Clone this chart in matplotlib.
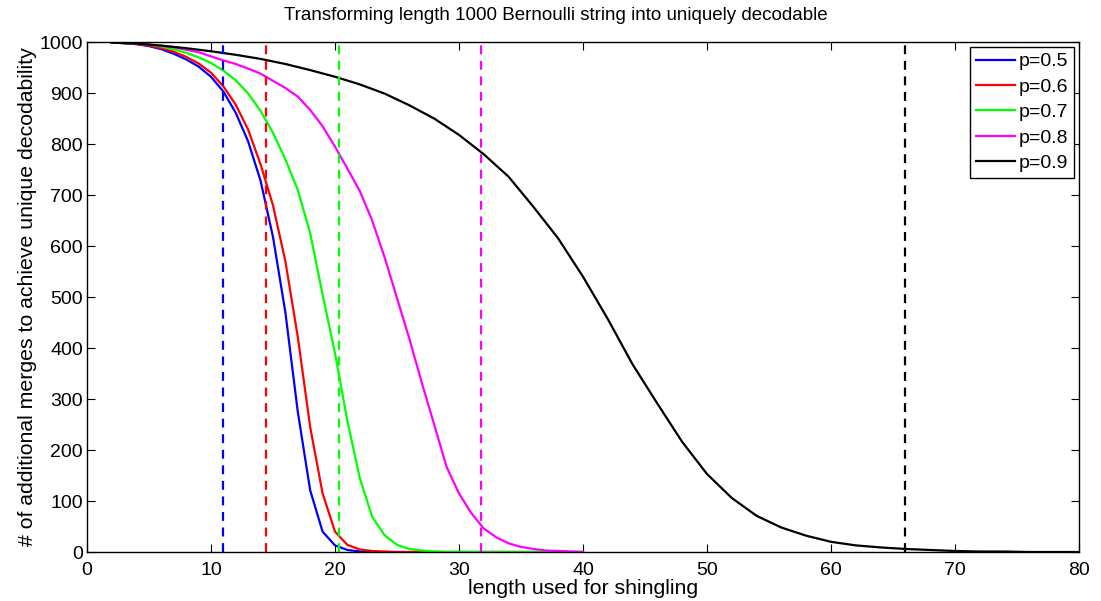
import numpy as np
import matplotlib
matplotlib.use('Agg')
import matplotlib.pyplot as plt

plt.rcParams['font.family'] = ['Liberation Sans', 'DejaVu Sans']

# shingle lengths
x_short = list(range(2, 41))
x_long = list(range(2, 81, 2))

merges_p5 = [999, 998, 996, 992, 986, 977, 966, 952, 932, 903, 861, 805, 728, 618, 470, 275, 121, 40, 13, 4, 1] + [0] * 18
merges_p6 = [999, 998, 996, 993, 988, 981, 971, 958, 940, 913, 877, 828, 760, 680, 570, 422, 245, 115, 40, 14, 5, 2, 1] + [0] * 16
merges_p7 = [999, 998, 997, 995, 991, 986, 979, 970, 959, 944, 925, 899, 865, 822, 770, 710, 625, 505, 390, 257, 145, 69, 33, 14, 6, 3, 1] + [0] * 12
merges_p8 = [999, 998, 997, 995, 993, 990, 985, 980, 972, 964, 957, 948, 938, 924, 910, 893, 867, 835, 795, 752, 708, 650, 578, 498, 418, 332, 250, 167, 115, 76, 46, 29, 17, 10, 6, 3, 2, 1, 0]
merges_p9 = [999, 997, 993, 988, 982, 975, 967, 957, 945, 932, 917, 899, 876, 850, 818, 780, 736, 677, 615, 540,
             457, 368, 291, 216, 153, 106, 71, 48, 32, 20, 13, 9, 6, 4, 2, 1, 1, 0, 0, 0]

thresholds = [10.95, 14.45, 20.3, 31.8, 65.95]
labels = ['p=0.5', 'p=0.6', 'p=0.7', 'p=0.8', 'p=0.9']
colors = [(0, 0, 1), (1, 0, 0), (0, 1, 0), (1, 0, 1), (0, 0, 0)]

fig = plt.figure(figsize=(11.01, 6.01), dpi=100)
ax = fig.add_axes([0.079, 0.0815, 0.901, 0.8485])

series = [(x_short, merges_p5), (x_short, merges_p6), (x_short, merges_p7),
          (x_short, merges_p8), (x_long, merges_p9)]
handles = []
for (xs, ys), c, lab in zip(series, colors, labels):
    h, = ax.plot(xs, ys, color=c, lw=1.6, label=lab)
    handles.append(h)

for t, c in zip(thresholds, colors):
    ax.plot([t, t], [0, 1000], '--', color=c, lw=1.6, dashes=(4, 3))

ax.set_xlim(0, 80)
ax.set_ylim(0, 1000)
ax.set_xticks(np.arange(0, 81, 10))
ax.set_yticks(np.arange(0, 1001, 100))
ax.tick_params(direction='in', length=6, width=0.8, top=True, right=True,
               labelsize=14, pad=3)
ax.tick_params(axis='x', pad=7)
for s in ax.spines.values():
    s.set_linewidth(1)

fig.text(556 / 1101, 1 - 15 / 601, 'Transforming length 1000 Bernoulli string into uniquely decodable',
         fontsize=13.5, ha='center', va='center')
ax.set_xlabel('length used for shingling', fontsize=15.3, labelpad=0)
ax.set_ylabel('# of additional merges to achieve unique decodability', fontsize=15.3, labelpad=2)

leg = ax.legend(handles=handles, loc='upper right', fontsize=14, fancybox=False,
                edgecolor='k', framealpha=1, borderaxespad=0.25, handlelength=2.0,
                handletextpad=0.2, labelspacing=0.4, borderpad=0.3)
leg.get_frame().set_linewidth(1)

fig.savefig('out.png', dpi=100)
